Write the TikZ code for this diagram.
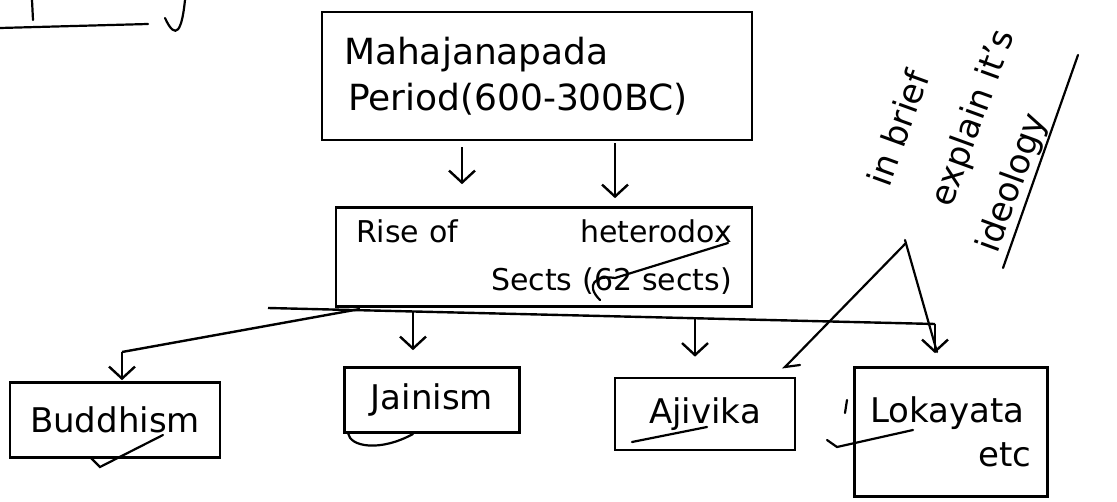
\documentclass[tikz,border=0pt]{standalone}
\usepackage{fontspec}
\setmainfont{DejaVu Sans}
\usetikzlibrary{arrows.meta, calc}

\begin{document}
\begin{tikzpicture}[
    x=1pt, y=-1pt,
    % Define styles for reusable components
    box/.style={draw, line width=2.6pt, inner ysep=0pt, inner xsep=20pt, font=\fontsize{34}{44}\selectfont},
    arrow/.style={-{Straight Barb[length=12pt, width=26pt, line width=2.4pt]}, line width=2.4pt},
    link/.style={line width=2.4pt},
    scribble/.style={line width=2.2pt, line cap=round},
    note/.style={rotate=70, anchor=base west, font=\fontsize{34}{40}\selectfont}
]
\useasboundingbox (0,0) rectangle (1117,502);

    % --- PERIOD ---
    \node[box, text width=386pt, inner xsep=22pt, align=left, minimum height=128pt, font=\fontsize{36}{46}\selectfont] (period) at (537,76)
        {Mahajanapada\\ \hspace*{4pt}Period(600-300BC)};

    % --- RISE OF SECTS ---
    \node[box, text width=376pt, align=left, minimum height=99pt, font=\fontsize{30}{48}\selectfont] (rise) at (544,257)
        {Rise of\hfill heterodox\\ \mbox{}\hfill Sects (62 sects)};

    % Two arrows from the period down to the sects
    \coordinate (p1) at ([xshift=-75pt]period.south);
    \coordinate (p2) at ([xshift=78pt]period.south);
    \draw[arrow, shorten <=6pt, shorten >=22pt] (p1) -- (p1 |- rise.north);
    \draw[arrow, shorten <=2pt, shorten >=8pt] (p2) -- (p2 |- rise.north);

    % --- THE FOUR SECTS ---
    \node[box, minimum width=206pt, minimum height=75pt] (buddh) at (115,420) {Buddhism};
    \node[box, minimum width=175pt, minimum height=65pt] (jain) at (432,400) {Jainism};
    \node[box, minimum width=180pt, minimum height=72pt] (ajiv) at (705,414) {Ajivika};
    \node[box, text width=161pt, inner xsep=16pt, align=left, minimum height=129pt] (loka) at (951,432)
        {Lokayata\\ \mbox{}\hfill etc\hspace*{14pt}};

    % Branch line under the sects box
    \coordinate (busW) at (268,308);
    \coordinate (busE) at (935,324);
    \coordinate (bB) at (360,309);
    \coordinate (bK) at (122,352);
    \coordinate (bJ) at (413,311);
    \coordinate (bA) at (695,318);
    \draw[link] (busW) -- (busE);
    \draw[link] (bB) -- (bK);
    \draw[arrow, shorten >=1pt] (bK) -- (bK |- buddh.north);
    \draw[arrow, shorten >=16pt] (bJ) -- (bJ |- jain.north);
    \draw[arrow, shorten >=20pt] (bA) -- (bA |- ajiv.north);
    \draw[arrow, shorten >=13pt] (busE) -- (busE |- loka.north);

    % --- SIDE NOTE ---
    \node[note] (n1) at (888,192) {in brief};
    \node[note] (n2) at (950,212) {explain it's};
    \node[note] (n3) at (996,258) {ideology};

    % --- SCRIBBLES ---
    \draw[scribble] (0,28) -- (148,24);
    \draw[scribble] (32,0) -- (33,20);
    \draw[scribble] (185,0) .. controls (182,30) and (176,42) .. (165,18);
    \draw[scribble] (1078,55) -- (1003,268);
    \draw[scribble] (905,244) -- (785,367) -- (800,365);
    \draw[scribble] (905,240) -- (937,352);
    \draw[scribble] (600,300) .. controls (585,285) and (595,275) .. (615,278) -- (728,243);
    \draw[scribble] (90,457) -- (100,467) -- (163,435);
    \draw[scribble] (348,433) .. controls (350,447) and (380,452) .. (413,434);
    \draw[scribble] (632,442) -- (707,427);
    \draw[scribble] (827,440) -- (837,447) -- (913,430);
    \draw[scribble] (847,400) -- (845,413);

\end{tikzpicture}
\end{document}
